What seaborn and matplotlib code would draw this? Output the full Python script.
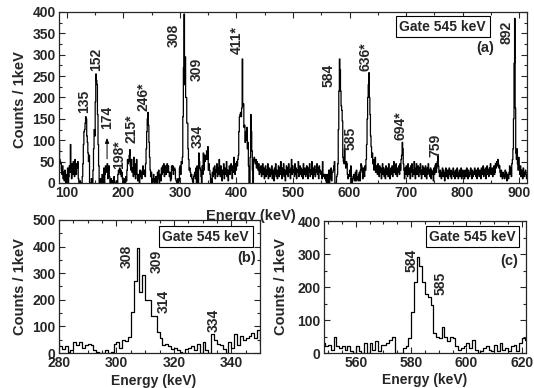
import numpy as np
import pandas as pd
import matplotlib
matplotlib.use("Agg")
import matplotlib.pyplot as plt
from matplotlib.ticker import MultipleLocator
import seaborn as sns

# Gate 545 keV coincidence spectrum, counts per 1 keV bin
seg_086 = [
    95, 55, 50, 45, 30, 20, 40, 10, 25, 5,
    30, 15, 0, 20, 10, 35, 0, 15, 40, 25,
    90, 30, 10, 45, 20, 50, 35, 15, 55, 40,
    20, 45, 35, 50, 10, 0, 0, 5, 0, 0,
    0, 15, 45, 90, 120, 125, 140, 155, 150, 110,
    95, 70, 50, 65, 0, 0, 0, 10, 0, 0,
    30, 80, 125, 110, 190, 255, 240, 230, 160, 90,
    40, 0, 0, 10, 0, 5, 20, 0, 15, 35,
    0, 20, 40, 25, 30, 45, 10, 30, 40, 15,
    0, 0, 10, 0, 5, 0, 0, 15, 0, 0,
    0, 5, 0, 0, 20, 30, 25, 35, 20, 30,
    15, 25, 10, 0, 5, 0, 10, 0, 15, 5,
    30, 55, 45, 50, 65, 78, 40, 30, 55, 25,
    35, 15, 60, 20, 45, 10, 30, 55, 20, 5,
    20, 10, 0, 30, 15, 25, 10, 30, 40, 20,
    25, 30, 15, 45, 80, 120, 150, 165, 135, 95,
    60, 30, 15, 25, 0, 10, 5, 20, 0, 10,
    0, 15, 5, 0, 25, 10, 30, 0, 15, 20,
    5, 35, 20, 40, 25, 45, 15, 30, 40, 20,
    35, 45, 25, 40,
]
# 280-350 keV, panel (b)
seg_280 = [
    25, 15, 25, 5, 10, 40, 30, 40, 20, 30,
    35, 30, 10, 5, 0, 0, 10, 0, 5, 35,
    40, 20, 50, 45, 60, 155, 270, 395, 230, 295,
    200, 200, 140, 140, 80, 55, 30, 35, 25, 15,
    20, 10, 5, 0, 15, 20, 25, 10, 35, 0,
    40, 10, 0, 70, 50, 35, 30, 15, 0, 40,
    20, 70, 30, 65, 50, 55, 65, 75, 55, 85, 30,
]
seg_351 = [
    45, 30, 20, 0, 10, 0, 25, 15, 35, 20,
    40, 10, 30, 25, 45, 15, 35, 20, 55, 30,
    15, 40, 25, 5, 30, 20, 45, 10, 35, 25,
    20, 50, 15, 30, 5, 25, 40, 20, 35, 45,
    30, 10, 40, 25, 60, 35, 20, 45, 30, 50,
    40, 55, 65, 120, 155, 160, 165, 155, 175, 290,
    180, 185, 130, 135, 95, 120, 100, 130, 80, 95,
    40, 0, 0, 60, 160, 120, 75, 30, 0, 55,
    60, 50, 45, 55, 35, 50, 40, 30, 45, 20,
    35, 25, 40, 15, 30, 45, 20, 35, 10, 25,
    40, 15, 30, 20, 45, 10, 25, 35, 15, 30,
    20, 40, 10, 30, 25, 5, 35, 20, 45, 15,
    30, 10, 25, 40, 15, 35, 20, 50, 25, 10,
    35, 20, 45, 15, 30, 5, 25, 40, 20, 35,
    15, 45, 25, 30, 10, 35, 55, 20, 40, 25,
    30, 15, 45, 20, 35, 10, 30, 25, 50, 15,
    25, 40, 20, 35, 15, 30, 10, 45, 25, 20,
    35, 15, 30, 40, 20, 10, 35, 25, 45, 15,
    30, 20, 50, 25, 10, 35, 20, 40, 15, 30,
    25, 45, 20, 35, 10, 40, 25,
]
# 548-621 keV, panel (c)
seg_548 = [
    30, 20, 25, 10, 50, 20, 15, 20, 10, 20,
    5, 0, 20, 5, 0, 30, 0, 30, 10, 35,
    5, 25, 25, 30, 40, 50, 0, 0, 0, 15,
    20, 45, 125, 215, 290, 265, 215, 180, 170, 145,
    60, 50, 45, 80, 50, 35, 50, 45, 20, 10,
    15, 20, 30, 15, 40, 10, 0, 5, 15, 20,
    10, 5, 25, 5, 30, 10, 15, 5, 20, 25,
    5, 30, 45, 40,
]
seg_622 = [
    25, 10, 35, 20, 15, 40, 30, 55, 90, 150,
    200, 230, 258, 200, 160, 110, 85, 60, 70, 45,
    55, 30, 45, 60, 25, 40, 35, 20, 45, 30,
    15, 40, 25, 35, 10, 30, 45, 20, 35, 15,
    30, 10, 40, 25, 20, 35, 15, 45, 30, 10,
    25, 35, 20, 40, 15, 30, 50, 25, 40, 20,
    45, 30, 15, 35, 25, 40, 20, 45, 30, 55,
    65, 95, 80, 45, 30, 10, 35, 20, 40, 25,
    15, 45, 30, 20, 35, 10, 40, 25, 45, 15,
    30, 20, 50, 35, 10, 25, 45, 20, 30, 40,
    15, 35, 25, 45, 20, 10, 30, 40, 20, 35,
    25, 15, 40, 30, 10, 35, 20, 45, 25, 30,
    15, 35, 10, 30, 25, 20, 5, 35, 20, 40,
    45, 25, 35, 50, 62, 40, 25, 15, 30, 20,
    10, 25, 35, 15, 30, 20, 5, 25, 35, 15,
    20, 30, 10, 25, 35, 20, 15, 30, 10, 25,
    20, 35, 15, 25, 10, 30, 20, 15, 35, 25,
    10, 20, 30, 15, 25, 35, 10, 20, 30, 15,
    25, 10, 30, 20, 15, 35, 25, 10, 30, 20,
    15, 25, 35, 20, 10, 30, 15, 25, 20, 35,
    25, 15, 30, 10, 25, 35, 20, 15, 30, 25,
    10, 35, 20, 25, 40, 15, 30, 20, 35, 10,
    25, 40, 20, 30, 15, 35, 25, 45, 20, 30,
    35, 15, 30, 40, 20, 25, 45, 35, 50, 40,
    55, 45, 35, 40, 25, 15, 30, 20, 10, 25,
    15, 20, 10, 30, 15, 25, 5, 20, 15, 10,
    25, 40, 20, 35, 15, 45, 55, 80, 150, 280,
    385, 175, 70, 55, 80, 45, 30, 60, 35, 20,
    40, 15, 30, 25, 10, 35, 20, 15, 25, 30,
    20, 10, 15,
]
seg_starts = [86, 280, 351, 548, 622]
segments = [seg_086, seg_280, seg_351, seg_548, seg_622]

# peak labels: (text, energy, counts) for each panel
labels_a = [("135", 131, 190), ("152", 152, 290), ("174", 171, 154), ("198*", 193, 66),
            ("215*", 215, 127), ("246*", 236, 202), ("308", 289, 346), ("309", 330, 266),
            ("334", 331, 108), ("411*", 401, 334), ("584", 563, 252), ("585", 602, 104),
            ("636*", 629, 296), ("694*", 690, 134), ("759", 752, 89), ("892", 877, 352)]
labels_b = [("308", 303.7, 365), ("309", 314, 344), ("314", 316.5, 193), ("334", 334, 122)]
labels_c = [("584", 580, 282), ("585", 590.5, 210)]

energy = np.concatenate([np.arange(s, s + len(seg)) for s, seg in zip(seg_starts, segments)])
counts = np.concatenate([np.array(seg, dtype=float) for seg in segments])
df = pd.DataFrame({"energy": energy, "counts": counts})

sns.set_style("ticks", {"xtick.direction": "in", "ytick.direction": "in"})
plt.rcParams["font.family"] = ["Liberation Sans", "DejaVu Sans"]
plt.rcParams["font.weight"] = "bold"
plt.rcParams["axes.labelweight"] = "bold"
plt.rcParams["axes.linewidth"] = 0.9

fig = plt.figure(figsize=(5.34, 3.88), dpi=100)
ax_a = fig.add_axes([0.1105, 0.5284, 0.8764, 0.4407])
ax_b = fig.add_axes([0.1105, 0.0902, 0.3764, 0.3428])
ax_c = fig.add_axes([0.6067, 0.0902, 0.3783, 0.3402])


def draw_panel(ax, lo, hi, ylim, xmaj, xmin, ymaj, ymin, labels, tag, tagpos, boxpos, lw):
    part = df[(df["energy"] >= lo - 1) & (df["energy"] <= hi + 1)]
    sns.lineplot(data=part, x="energy", y="counts", ax=ax, color="black", lw=lw,
                 drawstyle="steps-post", estimator=None, legend=False)
    ax.set_xlim(lo, hi)
    ax.set_ylim(*ylim)
    ax.xaxis.set_major_locator(MultipleLocator(xmaj))
    ax.xaxis.set_minor_locator(MultipleLocator(xmin))
    ax.yaxis.set_major_locator(MultipleLocator(ymaj))
    ax.yaxis.set_minor_locator(MultipleLocator(ymin))
    ax.tick_params(which="both", direction="in", top=True, right=True, labelsize=10, width=0.8)
    ax.tick_params(which="major", length=4, pad=2.5)
    ax.tick_params(which="minor", length=2)
    for lab in ax.get_xticklabels() + ax.get_yticklabels():
        lab.set_fontweight("bold")
    ax.set_xlabel("Energy (keV)", fontsize=10.5, fontweight="bold")
    ax.set_ylabel("Counts / 1keV", fontsize=10.5, fontweight="bold")
    for txt, xe, yc in labels:
        ax.text(xe, yc, txt, rotation=90, ha="center", va="center", fontsize=10, fontweight="bold")
    ax.text(boxpos[0], boxpos[1], "Gate 545 keV", transform=ax.transAxes, fontsize=10,
            fontweight="bold", ha="center", va="center",
            bbox=dict(boxstyle="square,pad=0.25", fc="white", ec="black", lw=0.8))
    ax.text(tagpos[0], tagpos[1], tag, transform=ax.transAxes, ha="center", va="center",
            fontsize=10.5, fontweight="bold")
    return ax


draw_panel(ax_a, 86, 914, (0, 400), 100, 50, 50, 25, labels_a, "(a)", (0.91, 0.787), (0.82, 0.915), 0.9)
draw_panel(ax_b, 280, 350, (0, 500), 20, 5, 100, 50, labels_b, "(b)", (0.935, 0.714), (0.73, 0.875), 0.9)
draw_panel(ax_c, 548.5, 621.5, (0, 400), 20, 5, 100, 50, labels_c, "(c)", (0.918, 0.70), (0.735, 0.88), 0.9)

# arrow marking the weak 174 keV line
ax_a.annotate("", xy=(171, 112), xytext=(171, 50),
              arrowprops=dict(arrowstyle="-|>,head_length=0.3,head_width=0.12", color="black", lw=0.7))

# bottom x labels a bit smaller so they stay inside the figure
for ax in (ax_b, ax_c):
    ax.xaxis.label.set_fontsize(10)

ax_a.xaxis.set_label_coords(0.41, -0.155)
ax_a.yaxis.set_label_coords(-0.068, 0.49)
ax_b.xaxis.set_label_coords(0.47, -0.155)
ax_b.yaxis.set_label_coords(-0.16, 0.5)
ax_c.xaxis.set_label_coords(0.5, -0.155)
ax_c.yaxis.set_label_coords(-0.18, 0.5)

fig.savefig("out.png", dpi=100)
